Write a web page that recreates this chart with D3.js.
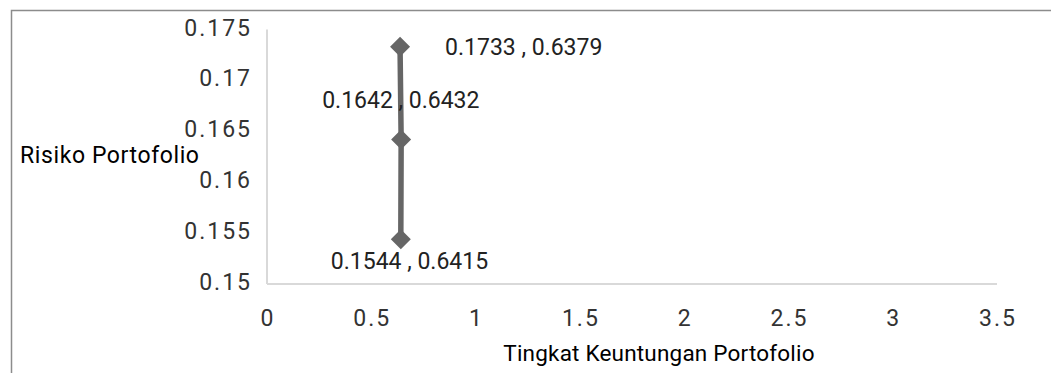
<!DOCTYPE html>
<html><head><meta charset="utf-8">
<script src="https://cdn.jsdelivr.net/npm/d3@7"></script>
<style>
html,body{margin:0;padding:0;background:#fff;}
svg{display:block;font-family:Roboto,"Noto Sans",sans-serif;}
</style></head>
<body>
<svg id="chart" width="1051" height="373"></svg>
<script>
// Data
const returns = [0.6379, 0.6432, 0.6415];   // Tingkat Keuntungan Portofolio (x)
const risks   = [0.1733, 0.1642, 0.1544];   // Risiko Portofolio (y)
const pointLabels = ["0.1733 , 0.6379", "0.1642 , 0.6432", "0.1544 , 0.6415"];
const xTicks = [0, 0.5, 1, 1.5, 2, 2.5, 3, 3.5];
const yTicks = [0.15, 0.155, 0.16, 0.165, 0.17, 0.175];
const xTitle = "Tingkat Keuntungan Portofolio";
const yTitle = "Risiko Portofolio";

const svg = d3.select("#chart");

// outer frame (partially visible)
svg.append("path").attr("d","M11.5,373 V10.5 H1051")
  .attr("fill","none").attr("stroke","#8c8c8c").attr("stroke-width",1.5);

const x = d3.scaleLinear().domain([0,3.5]).range([267,997]);
const y = d3.scaleLinear().domain([0.15,0.175]).range([284,29.5]);

// axes lines
svg.append("line").attr("x1",x(0)).attr("x2",x(0)).attr("y1",y(0.175)).attr("y2",y(0.15))
  .attr("stroke","#d9d9d9").attr("stroke-width",2);
svg.append("line").attr("x1",x(0)).attr("x2",x(3.5)).attr("y1",y(0.15)).attr("y2",y(0.15))
  .attr("stroke","#d9d9d9").attr("stroke-width",2);

const tickStyle = s => s.attr("font-size",23).attr("fill","#333").style("letter-spacing","2px");

// y tick labels
const fmt = d => String(+d.toFixed(4));
svg.append("g").selectAll("text").data(yTicks).join("text")
  .attr("x",252).attr("y",d=>y(d)-2).attr("dy","0.35em").attr("text-anchor","end")
  .text(fmt).call(tickStyle);

// x tick labels
svg.append("g").selectAll("text").data(xTicks).join("text")
  .attr("x",d=>x(d)+1).attr("y",318).attr("dy","0.35em").attr("text-anchor","middle")
  .text(fmt).call(tickStyle);

// titles
svg.append("text").attr("x",20).attr("y",155).attr("dy","0.35em")
  .attr("font-size",23).attr("fill","#000").style("letter-spacing","0.6px").text(yTitle);
svg.append("text").attr("x",659).attr("y",353).attr("dy","0.35em").attr("text-anchor","middle")
  .attr("font-size",22.5).attr("fill","#000").style("letter-spacing","0.2px").text(xTitle);

// line
const pts = returns.map((r,i)=>({x:r,y:risks[i],label:pointLabels[i]}));
svg.append("path").datum(pts)
  .attr("d", d3.line().x(d=>x(d.x)).y(d=>y(d.y)))
  .attr("fill","none").attr("stroke","#666").attr("stroke-width",5.5);

// markers
svg.append("g").selectAll("path").data(pts).join("path")
  .attr("d", d3.symbol(d3.symbolSquare, 200)())
  .attr("transform", d=>`translate(${x(d.x)},${y(d.y)}) rotate(45)`)
  .attr("fill","#666");

// data labels
const labelOffsets = [{dx:45, dy:0, anchor:"start"}, {dx:-79, dy:-39, anchor:"start"}, {dx:-70, dy:22, anchor:"start"}];
svg.append("g").selectAll("text").data(pts).join("text")
  .attr("x",(d,i)=>x(d.x)+labelOffsets[i].dx)
  .attr("y",(d,i)=>y(d.y)+labelOffsets[i].dy)
  .attr("dy","0.35em").attr("text-anchor",(d,i)=>labelOffsets[i].anchor)
  .attr("font-size",23).attr("fill","#222")
  .text(d=>d.label);
</script>
</body></html>
